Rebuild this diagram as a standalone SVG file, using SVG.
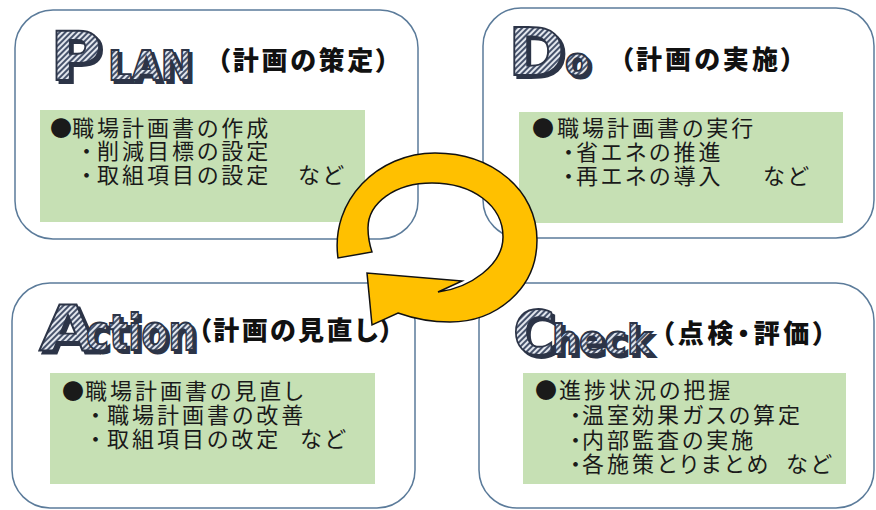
<svg xmlns="http://www.w3.org/2000/svg" xmlns:xlink="http://www.w3.org/1999/xlink" width="876" height="510" viewBox="0 0 876 510">
<defs>
<pattern id="hatch" width="4" height="4" patternUnits="userSpaceOnUse" patternTransform="rotate(45)">
<rect width="4" height="4" fill="#e3e7ee"/>
<rect width="2" height="4" fill="#46526b"/>
</pattern>
<style>
.frame{fill:#ffffff;stroke:#5b7b9a;stroke-width:1.5}
.green{fill:#c6e0b4}
.big{font-family:"DejaVu Sans","Liberation Sans",sans-serif;font-weight:bold}
.shadow{fill:#2c3447;stroke:#2c3447;stroke-width:1.8}
.deco{fill:url(#hatch);stroke:#2c3447;stroke-width:1.8}
.head{font-family:"Noto Sans CJK JP",sans-serif;font-weight:900;font-size:26px;fill:#111;font-feature-settings:"palt"}
.body{font-family:"Noto Sans CJK JP",sans-serif;font-size:22px;letter-spacing:3px;fill:#1a1a1a;font-feature-settings:"palt"}
.arrow{fill:#ffc000;stroke:#111;stroke-width:1.5;stroke-linejoin:miter}
</style>
<text id="pP" class="big" x="50" y="80" font-size="68" textLength="52" lengthAdjust="spacingAndGlyphs">P</text>
<text id="pLAN" class="big" x="108" y="80" font-size="40" textLength="84" lengthAdjust="spacingAndGlyphs">LAN</text>
<text id="dD" class="big" x="508" y="75" font-size="65" textLength="57" lengthAdjust="spacingAndGlyphs">D</text>
<text id="dO" class="big" x="565" y="75" font-size="37" textLength="25" lengthAdjust="spacingAndGlyphs">o</text>
<text id="aA" class="big" x="39" y="350" font-size="63" textLength="58" lengthAdjust="spacingAndGlyphs">A</text>
<text id="aCtion" class="big" x="86" y="350" font-size="50" textLength="110" lengthAdjust="spacingAndGlyphs">ction</text>
<text id="cC" class="big" x="513" y="354" font-size="61" textLength="42" lengthAdjust="spacingAndGlyphs">C</text>
<text id="cHeck" class="big" x="552" y="354" font-size="40" textLength="100" lengthAdjust="spacingAndGlyphs">heck</text>
</defs>

<g id="plan">
<rect class="frame" x="15" y="10" width="403" height="229" rx="38"/>
<use xlink:href="#pP" class="shadow" transform="translate(3,3)"/>
<use xlink:href="#pLAN" class="shadow" transform="translate(3,3)"/>
<use xlink:href="#pP" class="deco"/>
<use xlink:href="#pLAN" class="deco"/>
<text class="head" x="217" y="70" textLength="172">（計画の策定）</text>
<rect class="green" x="40" y="110" width="325" height="112"/>
<text class="body"><tspan x="50" y="136">●</tspan><tspan x="72" y="136">職場計画書の作成</tspan></text>
<text class="body"><tspan x="81" y="159">・</tspan><tspan x="97" y="159">削減目標の設定</tspan></text>
<text class="body"><tspan x="81" y="183">・</tspan><tspan x="97" y="183">取組項目の設定</tspan><tspan x="298" y="183">など</tspan></text>
</g>

<g id="do">
<rect class="frame" x="483" y="8" width="391" height="230" rx="38"/>
<use xlink:href="#dD" class="shadow" transform="translate(3,3)"/>
<use xlink:href="#dO" class="shadow" transform="translate(3,3)"/>
<use xlink:href="#dD" class="deco"/>
<use xlink:href="#dO" class="deco"/>
<text class="head" x="620" y="69" textLength="174">（計画の実施）</text>
<rect class="green" x="519" y="112" width="324" height="111"/>
<text class="body"><tspan x="532" y="136">●</tspan><tspan x="557" y="136">職場計画書の実行</tspan></text>
<text class="body"><tspan x="563" y="160">・</tspan><tspan x="576" y="160">省エネの推進</tspan></text>
<text class="body"><tspan x="563" y="184">・</tspan><tspan x="576" y="184">再エネの導入</tspan><tspan x="763" y="184">など</tspan></text>
</g>

<g id="action">
<rect class="frame" x="12" y="283" width="403" height="225" rx="38"/>
<use xlink:href="#aA" class="shadow" transform="translate(3,3)"/>
<use xlink:href="#aCtion" class="shadow" transform="translate(3,3)"/>
<use xlink:href="#aA" class="deco"/>
<use xlink:href="#aCtion" class="deco"/>
<text class="head" x="198" y="340" textLength="195">（計画の見直し）</text>
<rect class="green" x="50" y="373" width="325" height="111"/>
<text class="body"><tspan x="62" y="399">●</tspan><tspan x="85" y="399">職場計画書の見直し</tspan></text>
<text class="body"><tspan x="90" y="423">・</tspan><tspan x="107" y="423">職場計画書の改善</tspan></text>
<text class="body"><tspan x="90" y="447">・</tspan><tspan x="107" y="447">取組項目の改定</tspan><tspan x="300" y="447">など</tspan></text>
</g>

<g id="check">
<rect class="frame" x="479" y="283" width="395" height="225" rx="38"/>
<use xlink:href="#cC" class="shadow" transform="translate(3,3)"/>
<use xlink:href="#cHeck" class="shadow" transform="translate(3,3)"/>
<use xlink:href="#cC" class="deco"/>
<use xlink:href="#cHeck" class="deco"/>
<text class="head" x="661" y="343" textLength="165">（点検・評価）</text>
<rect class="green" x="523" y="373" width="323" height="111"/>
<text class="body"><tspan x="535" y="398">●</tspan><tspan x="559" y="398">進捗状況の把握</tspan></text>
<text class="body"><tspan x="570" y="423">・</tspan><tspan x="582" y="423">温室効果ガスの算定</tspan></text>
<text class="body"><tspan x="570" y="448">・</tspan><tspan x="582" y="448">内部監査の実施</tspan></text>
<text class="body"><tspan x="570" y="472">・</tspan><tspan x="582" y="472">各施策とりまとめ</tspan><tspan x="786" y="472">など</tspan></text>
</g>

<g id="connectors">
<path class="arrow" d="M 338 258 C 330 200, 378 153, 435 153 C 492 153, 537 190, 537 240 C 537 290, 495 322, 450 322 C 430 322, 412 318, 398 313 L 372 325 L 367 273 L 462 281 L 438 292 C 470 288, 503 265, 503 237 C 503 205, 472 183, 432 183 C 395 183, 368 203, 368 228 C 368 238, 370 246, 372 252 Z"/>
</g>
</svg>
